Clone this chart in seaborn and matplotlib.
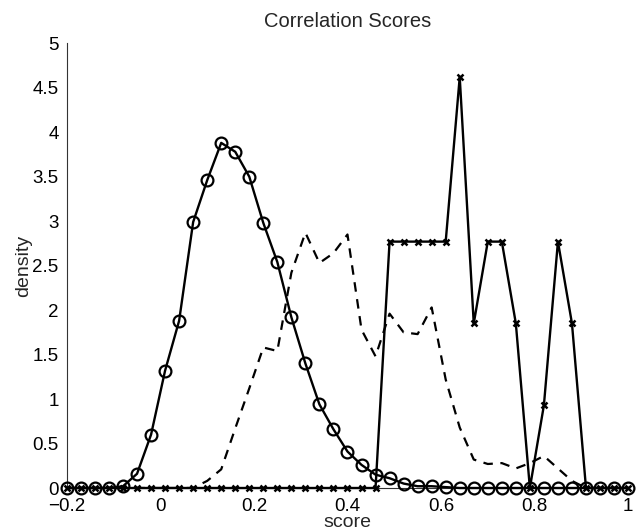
import matplotlib
matplotlib.use("Agg")
import matplotlib.pyplot as plt
import seaborn as sns
import pandas as pd

# ---- data ----
scores = [-0.20, -0.17, -0.14, -0.11, -0.08, -0.05, -0.02, 0.01, 0.04, 0.07,
          0.10, 0.13, 0.16, 0.19, 0.22, 0.25, 0.28, 0.31, 0.34, 0.37,
          0.40, 0.43, 0.46, 0.49, 0.52, 0.55, 0.58, 0.61, 0.64, 0.67,
          0.70, 0.73, 0.76, 0.79, 0.82, 0.85, 0.88, 0.91, 0.94, 0.97, 1.00]

circle_density = [0, 0, 0, 0, 0.02, 0.16, 0.60, 1.32, 1.88, 2.99,
                  3.46, 3.88, 3.78, 3.50, 2.98, 2.54, 1.92, 1.40, 0.94, 0.66,
                  0.41, 0.26, 0.15, 0.11, 0.05, 0.02, 0.02, 0.01, 0, 0,
                  0, 0, 0, 0, 0, 0, 0, 0, 0, 0, 0]

dashed_density = [0, 0, 0, 0, 0, 0, 0, 0, 0, 0.0,
                  0.08, 0.21, 0.67, 1.12, 1.58, 1.54, 2.42, 2.87, 2.53, 2.64,
                  2.85, 1.78, 1.48, 1.96, 1.75, 1.73, 2.03, 1.22, 0.68, 0.32,
                  0.27, 0.28, 0.22, 0.28, 0.36, 0.22, 0.08, 0, 0, 0, 0]

cross_density = [0, 0, 0, 0, 0, 0, 0, 0, 0, 0,
                 0, 0, 0, 0, 0, 0, 0, 0, 0, 0,
                 0, 0, 0, 2.77, 2.77, 2.77, 2.77, 2.77, 4.62, 1.85,
                 2.77, 2.77, 1.85, 0, 0.93, 2.77, 1.85, 0, 0, 0, 0]

x_ticks = [-0.2, 0, 0.2, 0.4, 0.6, 0.8, 1]
x_tick_labels = ["\u22120.2", "0", "0.2", "0.4", "0.6", "0.8", "1"]
y_ticks = [0, 0.5, 1, 1.5, 2, 2.5, 3, 3.5, 4, 4.5, 5]
y_tick_labels = ["0", "0.5", "1", "1.5", "2", "2.5", "3", "3.5", "4", "4.5", "5"]

df = pd.DataFrame({"score": scores, "circle": circle_density,
                   "dashed": dashed_density, "cross": cross_density})

sns.set_style("white")
plt.rcParams["font.family"] = ["Liberation Sans", "DejaVu Sans"]

fig = plt.figure(figsize=(6.37, 5.32), dpi=100)
ax = fig.add_axes([0.105, 0.0827, 0.881, 0.836])

sns.lineplot(data=df, x="score", y="circle", ax=ax, color="black", lw=1.7,
             marker="o", markersize=8.5, markerfacecolor="none",
             markeredgecolor="black", markeredgewidth=1.6, sort=False,
             estimator=None, clip_on=False, zorder=3)
sns.lineplot(data=df, x="score", y="dashed", ax=ax, color="black", lw=1.6,
             dashes=False, sort=False, estimator=None, zorder=3)
ax.lines[-1].set_dashes([4.3, 3.4])
sns.lineplot(data=df, x="score", y="cross", ax=ax, color="black", lw=1.7,
             marker="x", markersize=5, markeredgecolor="black",
             markeredgewidth=1.8, sort=False, estimator=None,
             clip_on=False, zorder=4)

ax.set_xlim(-0.2, 1)
ax.set_ylim(0, 5)
ax.set_xticks(x_ticks)
ax.set_xticklabels(x_tick_labels)
ax.set_yticks(y_ticks)
ax.set_yticklabels(y_tick_labels)

for s in ["top", "right"]:
    ax.spines[s].set_visible(False)
for s in ["left", "bottom"]:
    ax.spines[s].set_color("#333333")
    ax.spines[s].set_linewidth(0.8)

ax.tick_params(axis="both", direction="in", length=4, width=0.8,
               colors="#333333", labelcolor="black", labelsize=13.5)
ax.tick_params(axis="y", pad=6)
ax.tick_params(axis="x", pad=7.5)

ax.set_xlabel("score", fontsize=14, labelpad=-1)
ax.set_ylabel("density", fontsize=14, labelpad=0)
ax.set_title("Correlation Scores", fontsize=14.5, pad=12)

fig.savefig("out.png", dpi=100)
